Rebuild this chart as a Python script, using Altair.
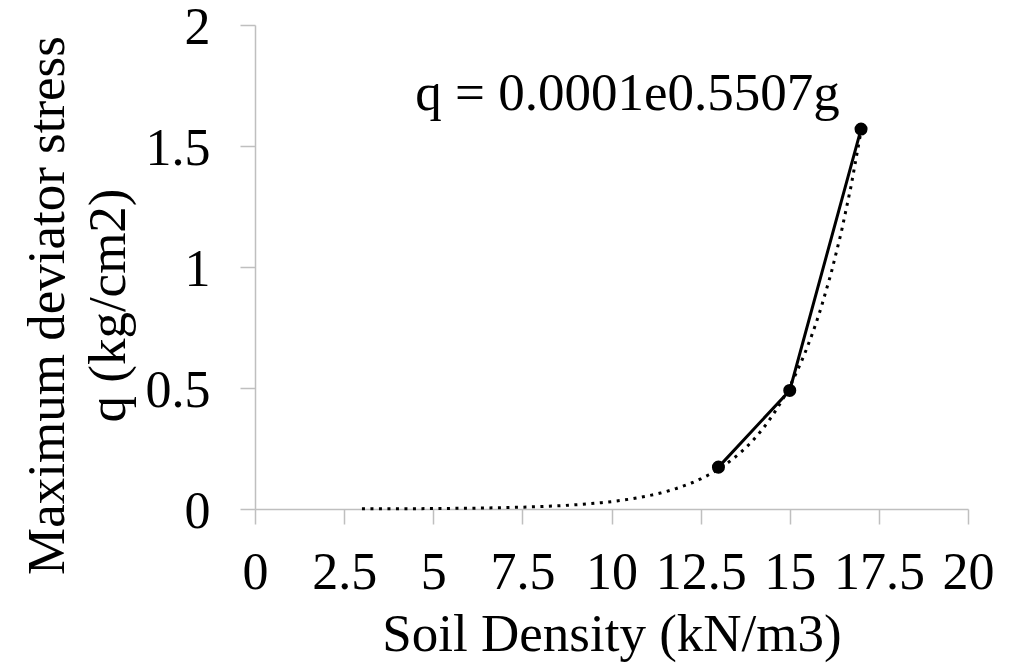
import altair as alt
import pandas as pd

density = [13, 15, 17]
stress = [0.173, 0.49, 1.57]
x_ticks = [0, 2.5, 5, 7.5, 10, 12.5, 15, 17.5, 20]
y_ticks = [0, 0.5, 1, 1.5, 2]
equation = ["q = 0.0001e0.5507g"]
eq_pos_x = [10.45]
eq_pos_y = [1.649]

df = pd.DataFrame({"x": density, "y": stress})
eq = pd.DataFrame({"t": equation, "x": eq_pos_x, "y": eq_pos_y})

FONT = "Liberation Serif"
GREY = "#bfbfbf"
FS = 52
TFS = 53

xscale = alt.Scale(domain=[0, 20], nice=False, zero=False)
yscale = alt.Scale(domain=[0, 2], nice=False)

xaxis = alt.Axis(
    values=x_ticks, title="Soil Density (kN/m3)", grid=False,
    domainColor=GREY, domainWidth=1.5, tickColor=GREY, tickWidth=1.5, tickSize=15,
    labelFont=FONT, labelFontSize=FS, labelColor="black", labelPadding=23,
    labelFlush=False, labelOverlap=False,
    titleFont=FONT, titleFontSize=TFS, titleFontWeight="normal", titleColor="black",
    titleBaseline="alphabetic", titleY=141,
    format=".1~f",
)
yaxis = alt.Axis(
    values=y_ticks, title=["Maximum deviator stress", "q (kg/cm2)"], grid=False,
    domainColor=GREY, domainWidth=1.5, tickColor=GREY, tickWidth=1.5, tickSize=15,
    labelFont=FONT, labelFontSize=FS, labelColor="black", labelPadding=30,
    labelOffset=2,
    labelFlush=False, labelOverlap=False,
    titleFont=FONT, titleFontSize=TFS, titleFontWeight="normal", titleColor="black",
    titleAngle=-90, titleBaseline="alphabetic", titleAlign="center",
    titleX=-192, titleY=280, titleLineHeight=61,
    format=".1~f",
)

base = alt.Chart(df)

trend = base.transform_regression(
    "x", "y", method="exp", extent=[3, 17]
).mark_line(color="black", strokeWidth=3, strokeDash=[3, 5.5]).encode(
    x=alt.X("x:Q", scale=xscale, axis=xaxis),
    y=alt.Y("y:Q", scale=yscale, axis=yaxis),
)

line = base.mark_line(color="black", strokeWidth=3).encode(
    x=alt.X("x:Q", scale=xscale),
    y=alt.Y("y:Q", scale=yscale),
)

pts = base.mark_point(filled=True, color="black", size=170, opacity=1).encode(
    x=alt.X("x:Q", scale=xscale),
    y=alt.Y("y:Q", scale=yscale),
)

label = alt.Chart(eq).mark_text(
    font=FONT, fontSize=TFS, color="black", align="center", baseline="alphabetic"
).encode(
    x=alt.X("x:Q", scale=xscale),
    y=alt.Y("y:Q", scale=yscale),
    text="t:N",
)

chart = alt.layer(trend, line, pts, label).properties(
    width=713, height=484,
    background="white",
    autosize=alt.AutoSizeParams(type="none"),
    padding={"left": 247, "top": 17, "right": 30, "bottom": 158},
).configure_view(strokeWidth=0, stroke=None)

chart.save("out.html", embed_options={"renderer": "svg", "actions": False})
